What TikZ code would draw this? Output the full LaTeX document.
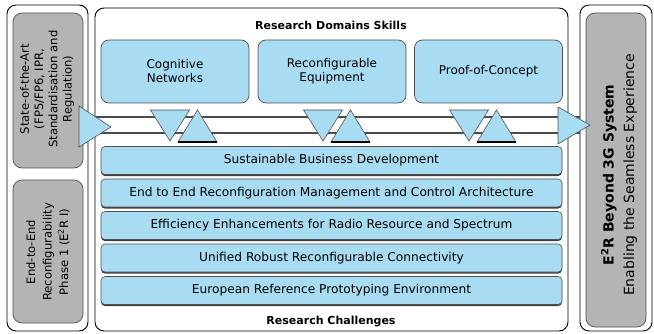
\documentclass[tikz,border=0pt]{standalone}
\usepackage{fontspec}
\setmainfont{DejaVu Sans}
\usetikzlibrary{shadows}

\definecolor{skyfill}{RGB}{168,220,242}
\definecolor{greyfill}{RGB}{180,180,180}
\definecolor{edgegrey}{RGB}{80,80,80}

\tikzset{
	frame/.style={draw=black, line width=0.9pt, rounded corners=9pt},
	greybox/.style={fill=greyfill, draw=edgegrey, line width=0.7pt, rounded corners=9pt},
	skillbox/.style={fill=skyfill, draw=edgegrey, line width=0.7pt, rounded corners=8pt,
		minimum width=148pt, minimum height=63pt, align=center, inner sep=0pt,
		font=\fontsize{12}{14}\selectfont},
	challengebar/.style={fill=skyfill, draw=edgegrey, line width=0.6pt, rounded corners=4pt,
		minimum width=461pt, minimum height=28pt, inner sep=0pt,
		drop shadow={shadow xshift=0pt, shadow yshift=-1.6pt, fill=black!75, opacity=1},
		font=\fontsize{12.2}{14}\selectfont},
	sidetext/.style={rotate=90, align=center, inner sep=0pt},
	headtext/.style={font=\bfseries\fontsize{11}{13}\selectfont, inner sep=0pt},
	tri/.style={fill=skyfill, draw=edgegrey, line width=0.6pt},
	band/.style={draw=black!70, line width=1.1pt}
}

\begin{document}
\begin{tikzpicture}[x=1pt, y=-1pt]
	\useasboundingbox (0,0) rectangle (654,334);
	
	%%% Рамки
	\draw[frame] (7,5) rectangle (88,331);
	\draw[frame] (95,8) rectangle (568,331);
	\draw[frame] (580,5) rectangle (652,331);
	
	\filldraw[greybox] (13,13) rectangle (83,168);
	\filldraw[greybox] (13,180) rectangle (83,323);
	\filldraw[greybox] (586,13) rectangle (646,327);
	
	%%% Полоса со стрелками
	\draw[band] (88,117) -- (580,117);
	\draw[band] (88,133) -- (580,133);
	
	\filldraw[tri] (79,106) -- (111,127) -- (79,147) -- cycle;
	\filldraw[tri] (558,107) -- (590,125) -- (558,144) -- cycle;
	
	% Треугольники вниз и вверх
	\foreach \cx in {170,323,469} {
		\filldraw[tri] (\cx-19.5,110) -- (\cx+19.5,110) -- (\cx,141) -- cycle;
		\filldraw[tri] (\cx+27.5,110) -- (\cx+47,142) -- (\cx+8,142) -- cycle;
		\draw[black, line width=1.2pt] (\cx+8,142) -- (\cx+47,142);
	}
	
	%%% Блоки
	\node[headtext] (skills) at (331,25) {Research Domains Skills};
	
	\node[skillbox] (cognitive) at (175,71.5) {Cognitive\\Networks};
	\node[skillbox] (equipment) at (332,71.5) {Reconfigurable\\Equipment};
	\node[skillbox] (proof) at (488.5,71.5) {Proof-of-Concept};
	
	\foreach \txt [count=\i] in {Sustainable Business Development,
		End to End Reconfiguration Management and Control Architecture,
		Efficiency Enhancements for Radio Resource and Spectrum,
		Unified Robust Reconfigurable Connectivity,
		European Reference Prototyping Environment}
		\node[challengebar] (bar\i) at (331.5,{160.5+32.5*(\i-1)}) {\txt};
	
	\node[headtext] (challenges) at (331,322) {Research Challenges};
	
	%%% Подписи
	\node[sidetext, font=\fontsize{11.6}{14.2}\selectfont] (stateart) at (47,89)
		{State-of-the-Art\\(FP5/FP6, IPR,\\Standardisation and\\Regulation)};
	\node[sidetext, font=\fontsize{11.6}{16.5}\selectfont] (phaseone) at (48,252)
		{End-to-End\\Reconfigurability\\Phase 1 (E\textsuperscript{2}R I)};
	\node[sidetext, font=\fontsize{14}{20.5}\selectfont] (beyond) at (619,175)
		{\textbf{E\textsuperscript{2}R Beyond 3G System}\\Enabling the Seamless Experience};
\end{tikzpicture}
\end{document}
